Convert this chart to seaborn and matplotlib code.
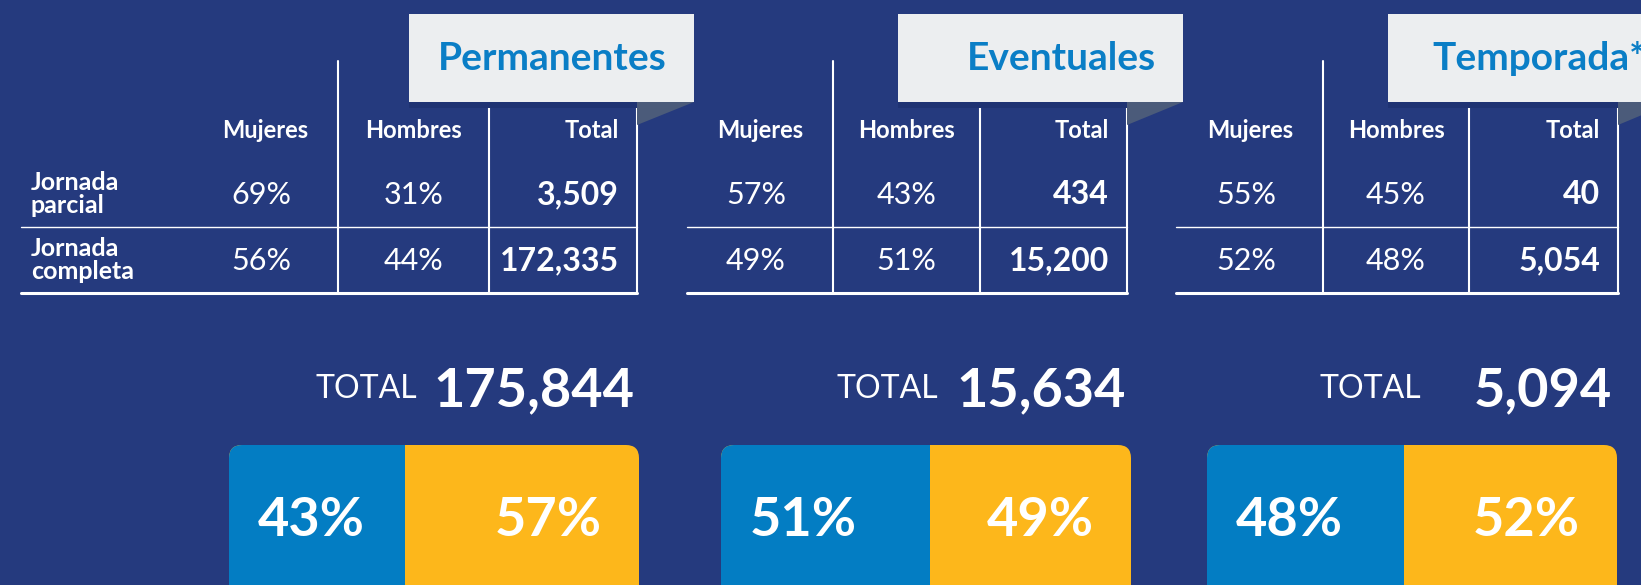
import pandas as pd
import seaborn as sns
import matplotlib.pyplot as plt
from matplotlib.patches import FancyBboxPatch, Rectangle, Polygon
from matplotlib.transforms import IdentityTransform, blended_transform_factory

# data
grupos = ["Permanentes", "Eventuales", "Temporada*"]
jornadas = ["Jornada\nparcial", "Jornada\ncompleta"]
columnas = ["Mujeres", "Hombres", "Total"]
mujeres_parcial = [69, 57, 55]
hombres_parcial = [31, 43, 45]
total_parcial = [3509, 434, 40]
mujeres_completa = [56, 49, 52]
hombres_completa = [44, 51, 48]
total_completa = [172335, 15200, 5054]
total_general = [175844, 15634, 5094]
hombres_total = [43, 51, 48]
mujeres_total = [57, 49, 52]

NAVY = "#253A7E"
BOX = "#ECEEF0"
TITLE = "#0A7EC6"
BLUE = "#037DC3"
YELLOW = "#FDB71B"
FOLD = "#4B5B7A"

sns.set_theme(style="white")
plt.rcParams['font.family'] = ['Lato', 'DejaVu Sans']

W, H = 1641, 585
fig = plt.figure(figsize=(W / 100, H / 100), dpi=100, facecolor=NAVY)
ax = fig.add_axes([0, 0, 1, 1])
ax.set_xlim(0, W)
ax.set_ylim(H, 0)
ax.axis('off')

# layout in pixels
v1 = [338, 833, 1323]
v2 = [489, 980, 1469]
v3 = [637, 1127, 1618]
hl_left = [21, 687, 1176]
box_left = [409, 898, 1388]
box_w, box_top, box_bot = 285, 14, 102
y_head, y_r1, y_r2, y_h1, y_h2 = 131, 195, 261, 227, 293
bar_left = [229, 721, 1207]
bar_w = 410
bar_top, bar_bot = 445, 640
total_lbl_right = [417, 938, 1421]
y_total = 391
y_pct = 521

for i, g in enumerate(grupos):
    # table grid
    ax.plot([v1[i]] * 2, [61, y_h2], color='white', lw=1.5, zorder=2)
    ax.plot([v2[i]] * 2, [box_bot, y_h2], color='white', lw=1.5, zorder=2)
    ax.plot([v3[i]] * 2, [box_bot, y_h2], color='white', lw=1.5, zorder=2)
    ax.plot([hl_left[i], v3[i]], [y_h1] * 2, color='white', lw=1.0, zorder=2)
    ax.plot([hl_left[i], v3[i]], [y_h2] * 2, color='white', lw=2.2, zorder=2)

    # title tab with fold
    ax.add_patch(Rectangle((box_left[i], box_bot), v3[i] - box_left[i], 6,
                           color="#1F3373", zorder=3, lw=0))
    ax.add_patch(Polygon([(v3[i], box_bot), (box_left[i] + box_w, box_bot),
                          (v3[i], box_bot + 23)], color=FOLD, zorder=3, lw=0))
    ax.add_patch(Rectangle((box_left[i], box_top), box_w, box_bot - box_top,
                           color=BOX, zorder=4, lw=0))
    ax.text(box_left[i] + box_w - 27, (box_top + box_bot) / 2 + 1, g,
            ha='right', va='center', fontsize=28, fontweight='bold',
            color=TITLE, zorder=5)

    # headers
    x_muj = v1[i] - 73
    x_hom = (v1[i] + v2[i]) / 2
    x_tot = v3[i] - 18
    ax.text(x_muj, y_head, columnas[0], ha='center', va='center',
            fontsize=17, fontweight='bold', color='white')
    ax.text(x_hom, y_head, columnas[1], ha='center', va='center',
            fontsize=17, fontweight='bold', color='white')
    ax.text(x_tot, y_head, columnas[2], ha='right', va='center',
            fontsize=17, fontweight='bold', color='white')

    rows = [(y_r1, mujeres_parcial[i], hombres_parcial[i], total_parcial[i]),
            (y_r2, mujeres_completa[i], hombres_completa[i], total_completa[i])]
    for y, m, h, t in rows:
        ax.text(x_muj - 4, y, f"{m}%", ha='center', va='center',
                fontsize=22, fontweight='normal', color='white')
        ax.text(x_hom, y, f"{h}%", ha='center', va='center',
                fontsize=22, fontweight='normal', color='white')
        ax.text(x_tot, y, f"{t:,}", ha='right', va='center',
                fontsize=23, fontweight='bold', color='white')

    # grand total
    ax.text(total_lbl_right[i], y_total - 2, "TOTAL", ha='right', va='center',
            fontsize=23, fontweight='normal', color='white')
    ax.text(bar_left[i] + bar_w - 5, y_total, f"{total_general[i]:,}",
            ha='right', va='center', fontsize=39, fontweight='bold', color='white')

    # stacked split bar
    bax = fig.add_axes([bar_left[i] / W, (H - bar_bot) / H,
                        bar_w / W, (bar_bot - bar_top) / H])
    bax.set_facecolor('none')
    sns.barplot(x=[100], y=[0], orient='h', color=YELLOW, saturation=1,
                width=1, linewidth=0, ax=bax)
    sns.barplot(x=[hombres_total[i]], y=[0], orient='h', color=BLUE,
                saturation=1, width=1, linewidth=0, ax=bax)
    bax.set_xlim(0, 100)
    bax.set_ylim(0.5, -0.5)
    bax.axis('off')
    clip = FancyBboxPatch((bar_left[i], H - bar_bot), bar_w, bar_bot - bar_top,
                          boxstyle='round,pad=0,rounding_size=13',
                          transform=IdentityTransform(), facecolor='none')
    for p in bax.patches:
        p.set_clip_path(clip)
    tr = blended_transform_factory(bax.transData, ax.transData)
    bax.text(7, y_pct, f"{hombres_total[i]}%", transform=tr, ha='left',
             va='center', fontsize=39, fontweight='bold', color='white')
    bax.text(91, y_pct, f"{mujeres_total[i]}%", transform=tr, ha='right',
             va='center', fontsize=39, fontweight='bold', color='white')

# row labels
for y, lbl in zip([y_r1, y_r2], jornadas):
    ax.text(31, y - 1, lbl, ha='left', va='center', fontsize=18,
            fontweight='bold', color='white', linespacing=1.05)

fig.savefig("out.png", dpi=100, facecolor=NAVY)
